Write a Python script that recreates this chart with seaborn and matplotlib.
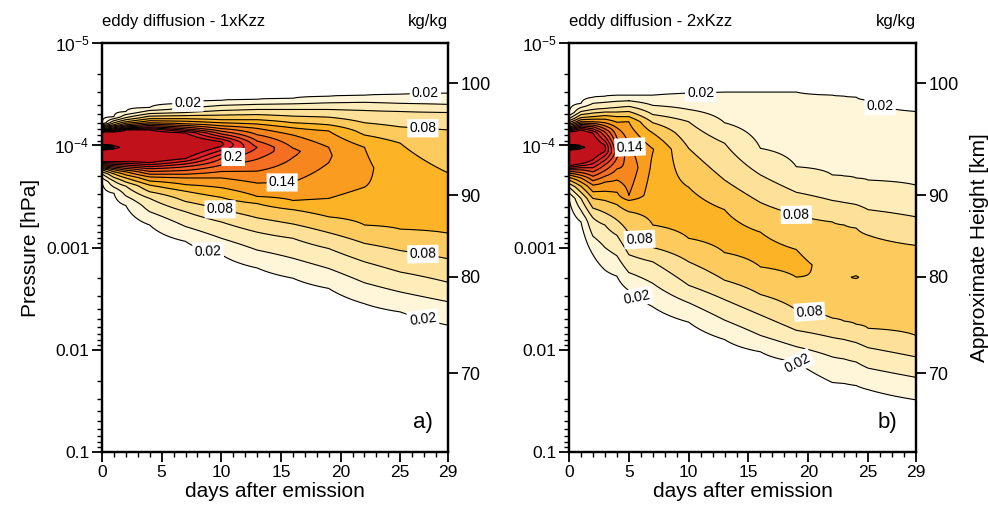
import numpy as np
import matplotlib
matplotlib.use("Agg")
import matplotlib.pyplot as plt
from matplotlib.ticker import MultipleLocator, NullLocator, NullFormatter, LogLocator
import seaborn as sns

N = np.nan

# ---------------- data ----------------
# contour values whose crossing pressures (log10 hPa) were read per day
ANCHOR_LEVELS = [0.02, 0.04, 0.06, 0.08, 0.10, 0.12, 0.14, 0.20, 0.26]

# panel a : 1xKzz
A_DAYS = [0, 1, 2, 4, 7, 10, 13, 16, 19, 22, 25, 29]
A_PEAK = [0.45, 0.42, 0.40, 0.36, 0.31, 0.265, 0.20, 0.165, 0.142, 0.124, 0.117, 0.113]
A_CENTER = [-3.98, -3.98, -3.99, -3.99, -4.00, -4.01, -3.98, -3.94, -3.90, -3.78, -3.55, -3.45]
A_SPIKE = [4.0, 0.6, N, N, N, N, N, N, N, N, N, N]
A_TOP = [
    [-4.22, N, -4.20, N, -4.18, N, -4.16, -4.15, -4.13],
    [-4.28, N, -4.24, N, -4.20, N, -4.18, -4.15, -4.13],
    [-4.33, N, -4.27, N, -4.23, N, -4.20, -4.17, -4.15],
    [-4.37, N, -4.31, N, -4.26, N, -4.22, -4.18, -4.15],
    [-4.41, N, -4.32, N, -4.26, N, -4.21, -4.16, -4.12],
    [-4.44, N, -4.34, N, -4.25, N, -4.19, -4.11, -4.035],
    [-4.45, N, -4.35, N, -4.25, N, -4.165, N, N],
    [-4.46, N, -4.35, N, -4.22, -4.17, -4.10, N, N],
    [-4.48, N, -4.35, N, -4.20, -4.14, -3.98, N, N],
    [-4.49, -4.42, -4.34, -4.22, -4.10, -3.98, N, N, N],
    [-4.50, -4.41, -4.33, -4.18, -4.02, N, N, N, N],
    [-4.51, -4.40, -4.32, -4.15, -3.73, N, N, N, N],
]
A_BOT = [
    [-3.64, N, -3.72, N, -3.76, N, -3.78, -3.81, -3.84],
    [-3.53, N, -3.65, N, -3.72, N, -3.76, -3.80, -3.84],
    [-3.41, N, -3.60, N, -3.68, N, -3.74, -3.79, -3.84],
    [-3.22, N, -3.48, N, -3.61, N, -3.69, -3.77, -3.83],
    [-3.06, N, -3.35, N, -3.55, N, -3.68, -3.79, -3.87],
    [-2.93, N, -3.25, N, -3.49, N, -3.68, -3.87, -3.99],
    [-2.80, N, -3.15, N, -3.43, -3.50, -3.63, N, N],
    [-2.70, N, -3.09, N, -3.37, -3.46, -3.64, N, N],
    [-2.60, N, -2.99, N, -3.30, -3.48, -3.83, N, N],
    [-2.45, N, -2.86, N, -3.22, -3.59, N, N, N],
    [-2.37, N, -2.76, N, -3.18, N, N, N, N],
    [-2.24, -2.47, -2.66, -2.89, -3.14, N, N, N, N],
]

# panel b : 2xKzz
B_DAYS = [0, 1, 2, 3, 4, 5, 7, 10, 13, 16, 19, 22, 23, 24, 25, 29]
B_PEAK = [0.45, 0.38, 0.30, 0.265, 0.19, 0.155, 0.121, 0.110, 0.108, 0.106, 0.104,
          0.0995, 0.0995, 0.1006, 0.099, 0.097]
B_CENTER = [-3.98, -3.98, -3.97, -3.97, -3.93, -3.78, -3.96, -3.35, -3.15, -2.98, -2.83,
            -2.70, -2.70, -2.71, -2.68, -2.58]
B_SPIKE = [4.0, 0.6] + [N] * 14
B_TOP = [
    [-4.32, N, -4.26, N, -4.22, N, -4.19, -4.16, -4.13],
    [-4.41, N, -4.33, N, -4.27, N, -4.23, -4.19, -4.15],
    [-4.47, N, -4.35, N, -4.28, N, -4.23, -4.18, -4.12],
    [-4.48, N, -4.36, N, -4.29, N, -4.22, -4.13, -4.00],
    [-4.49, N, -4.37, N, -4.28, N, -4.17, N, N],
    [-4.49, N, -4.38, N, -4.28, -4.23, -4.00, N, N],
    [-4.49, -4.39, -4.30, -4.22, -4.12, N, N, N, N],
    [-4.51, -4.35, -4.23, -3.97, -3.59, N, N, N, N],
    [-4.52, -4.22, -4.02, -3.66, -3.37, N, N, N, N],
    [-4.52, -3.97, -3.71, -3.44, -3.15, N, N, N, N],
    [-4.52, -3.79, -3.54, -3.32, -2.98, N, N, N, N],
    [-4.49, -3.71, -3.46, -3.25, N, N, N, N, N],
    [-4.48, -3.70, -3.44, -3.22, N, N, N, N, N],
    [-4.47, -3.68, -3.42, -3.19, N, N, N, N, N],
    [-4.44, -3.66, -3.37, -3.12, N, N, N, N, N],
    [-4.33, -3.61, -3.30, -3.02, N, N, N, N, N],
]
B_BOT = [
    [-3.48, N, -3.59, N, -3.66, N, -3.71, -3.76, -3.80],
    [-3.25, N, -3.48, N, -3.60, N, -3.68, -3.76, -3.82],
    [-2.93, N, -3.29, N, -3.48, N, -3.61, -3.74, -3.86],
    [-2.78, N, -3.22, N, -3.46, N, -3.64, -3.81, -3.94],
    [-2.72, N, -3.12, N, -3.42, N, -3.66, N, N],
    [-2.58, N, -2.93, N, -3.35, -3.46, -3.51, N, N],
    [-2.42, -2.65, -2.86, -3.00, -3.22, N, N, N, N],
    [-2.27, -2.46, -2.63, -2.86, -3.09, N, N, N, N],
    [-2.10, -2.29, -2.49, -2.68, -2.95, N, N, N, N],
    [-1.98, -2.14, -2.34, -2.54, -2.81, N, N, N, N],
    [-1.88, -2.03, -2.19, -2.39, -2.71, N, N, N, N],
    [-1.68, -1.93, -2.12, -2.31, N, N, N, N, N],
    [-1.67, -1.91, -2.10, -2.28, N, N, N, N, N],
    [-1.65, -1.88, -2.07, -2.25, N, N, N, N, N],
    [-1.61, -1.82, -2.02, -2.21, N, N, N, N, N],
    [-1.51, -1.73, -1.93, -2.14, N, N, N, N, N],
]

FILL_LEVELS = [0.02, 0.04, 0.06, 0.08, 0.10, 0.12, 0.14, 0.16, 0.18, 0.20, 0.22, 0.24, 0.26, 50.0]
FILL_COLORS = ['#FFF6D9', '#FFEDB9', '#FEE198', '#FDCA5E', '#FCB426', '#FA9C20', '#F7861F',
               '#F46F21', '#F15824', '#EE3F26', '#EB2828', '#DF1D25', '#C1111B']
LABEL_LEVELS = [0.02, 0.08, 0.14, 0.20]
OTHER_LINE_LEVELS = [0.04, 0.06, 0.10, 0.12, 0.16, 0.18, 0.22, 0.24, 0.26]
SPIKE_LEVELS = list(np.round(np.arange(0.5, 4.0, 0.1), 2))
LABEL_FMT = {0.02: '0.02', 0.08: '0.08', 0.14: '0.14', 0.20: '0.2'}

HEIGHT_KM = ['100', '90', '80', '70']
HEIGHT_P = [2.48e-5, 3.07e-4, 1.93e-3, 1.69e-2]

P_TICKS = [1e-5, 1e-4, 1e-3, 1e-2, 1e-1]
P_TICKLABELS = ['10$^{-5}$', '10$^{-4}$', '0.001', '0.01', '0.1']
X_TICKS = [0, 5, 10, 15, 20, 25, 29]

TITLES = ['eddy diffusion - 1xKzz', 'eddy diffusion - 2xKzz']
PANEL_TAGS = ['a)', 'b)']

# label placement hints (day, hPa)
A_LABEL_POS = [(7.2, 10 ** -4.39), (27.1, 10 ** -4.49), (26.9, 10 ** -4.17), (11.0, 10 ** -3.86),
               (15.1, 10 ** -3.61), (9.9, 10 ** -3.35), (8.9, 10 ** -2.98), (26.9, 10 ** -2.93),
               (26.9, 10 ** -2.29)]
B_LABEL_POS = [(11.0, 10 ** -4.51), (26.0, 10 ** -4.42), (5.1, 10 ** -3.86), (19.0, 10 ** -3.34),
               (5.9, 10 ** -3.0), (20.1, 10 ** -2.36), (5.7, 10 ** -2.52), (18.9, 10 ** -1.85)]

# ---------------- field construction ----------------
LOGP = np.linspace(-5.0, -1.0, 801)


def column(top, bot, center, peak, spike):
    pts = []
    tops = [(t, lv) for t, lv in zip(top, ANCHOR_LEVELS) if not np.isnan(t)]
    bots = [(b, lv) for b, lv in zip(bot, ANCHOR_LEVELS) if not np.isnan(b)]
    tops.sort()
    bots.sort()
    pts.append((tops[0][0] - 0.25, 0.0))
    pts.extend(tops)
    if not np.isnan(spike):
        pts.extend([(center - 0.025, peak), (center, spike), (center + 0.025, peak)])
    else:
        pts.append((center, peak))
    pts.extend(bots)
    pts.append((bots[-1][0] + 0.3, 0.0))
    pts.sort()
    xs = np.array([p[0] for p in pts])
    vs = np.array([p[1] for p in pts])
    return np.interp(LOGP, xs, vs)


def field(days, top, bot, center, peak, spike):
    cols = [column(top[i], bot[i], center[i], peak[i], spike[i]) for i in range(len(days))]
    return np.array(cols).T


# ---------------- plotting ----------------
sns.set_theme(style='ticks')
plt.rcParams['font.family'] = ['Liberation Sans', 'DejaVu Sans']
plt.rcParams['mathtext.fontset'] = 'custom'
plt.rcParams['mathtext.rm'] = 'Liberation Sans'
plt.rcParams['mathtext.it'] = 'Liberation Sans:italic'
plt.rcParams['axes.edgecolor'] = 'black'
plt.rcParams['xtick.color'] = 'black'
plt.rcParams['ytick.color'] = 'black'
plt.rcParams['text.color'] = 'black'
plt.rcParams['axes.labelcolor'] = 'black'

fig = plt.figure(figsize=(9.88, 5.11), dpi=100)
rects = [[102 / 988, 59 / 511, 346 / 988, 409 / 511],
         [569 / 988, 59 / 511, 347 / 988, 409 / 511]]

panels = [
    (A_DAYS, A_TOP, A_BOT, A_CENTER, A_PEAK, A_SPIKE, A_LABEL_POS),
    (B_DAYS, B_TOP, B_BOT, B_CENTER, B_PEAK, B_SPIKE, B_LABEL_POS),
]

for k, (days, top, bot, cen, peak, spike, lpos) in enumerate(panels):
    ax = fig.add_axes(rects[k])
    Z = field(days, top, bot, cen, peak, spike)
    P = 10 ** LOGP
    ax.contourf(days, P, Z, levels=FILL_LEVELS, colors=FILL_COLORS)
    ax.contour(days, P, Z, levels=OTHER_LINE_LEVELS, colors='black', linewidths=0.8)
    ax.contour(days, P, Z, levels=SPIKE_LEVELS, colors='black', linewidths=0.8)
    cs_lab = ax.contour(days, P, Z, levels=LABEL_LEVELS, colors='black', linewidths=0.8)
    labs = ax.clabel(cs_lab, manual=lpos, inline=False, fmt=LABEL_FMT, fontsize=10)
    for t in labs:
        t.set_bbox(dict(boxstyle='square,pad=0.15', fc='white', ec='none'))

    ax.set_yscale('log')
    ax.set_ylim(1e-1, 1e-5)
    ax.set_xlim(0, 29)
    ax.set_yticks(P_TICKS)
    ax.set_yticklabels(P_TICKLABELS)
    ax.yaxis.set_minor_locator(LogLocator(base=10, subs=np.arange(2, 10)))
    ax.yaxis.set_minor_formatter(NullFormatter())
    ax.set_xticks(X_TICKS)
    ax.xaxis.set_minor_locator(MultipleLocator(1))
    ax.tick_params(axis='both', which='major', direction='out', length=7, width=1.3,
                   labelsize=12.5, pad=2, top=False, right=False)
    ax.tick_params(axis='both', which='minor', direction='out', length=3.5, width=1.0,
                   top=False, right=False)
    for s in ax.spines.values():
        s.set_linewidth(1.6)
        s.set_visible(True)
    ax.set_xlabel('days after emission', fontsize=15, labelpad=2)
    if k == 0:
        ax.set_ylabel('Pressure [hPa]', fontsize=15, labelpad=4)

    ax2 = ax.twinx()
    ax2.set_yscale('log')
    ax2.set_ylim(1e-1, 1e-5)
    ax2.set_yticks(HEIGHT_P)
    ax2.set_yticklabels(HEIGHT_KM)
    ax2.yaxis.set_minor_locator(NullLocator())
    ax2.tick_params(axis='y', which='major', direction='out', length=7, width=1.3,
                    labelsize=13, pad=2)
    ax2.grid(False)
    for s in ax2.spines.values():
        s.set_linewidth(1.6)
    if k == 1:
        ax2.set_ylabel('Approximate Height [km]', fontsize=15, labelpad=8)

    ax.text(0.0, 1.035, TITLES[k], transform=ax.transAxes, ha='left', va='bottom', fontsize=12)
    ax.text(1.0, 1.035, 'kg/kg', transform=ax.transAxes, ha='right', va='bottom', fontsize=12)
    ax.text(0.955 if k == 0 else 0.945, 0.072, PANEL_TAGS[k], transform=ax.transAxes,
            ha='right', va='center', fontsize=16)

fig.savefig('out.png', dpi=100)
